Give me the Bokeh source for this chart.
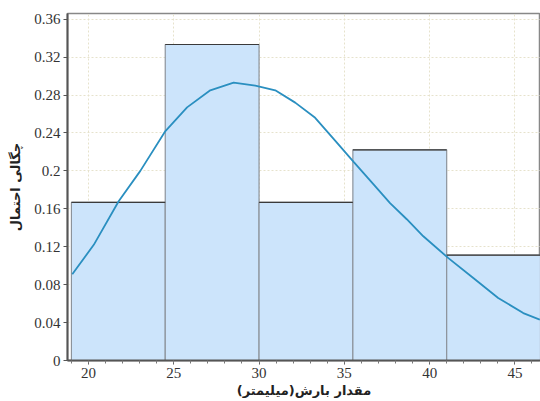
from bokeh.plotting import figure
from bokeh.embed import file_html
from bokeh.resources import INLINE
from bokeh.models import Range1d, FixedTicker

# histogram bins (rainfall, mm) and relative frequency
bin_left = [19.0, 24.5, 30.0, 35.5, 41.0]
bin_right = [24.5, 30.0, 35.5, 41.0, 46.5]
bin_height = [0.1667, 0.3333, 0.1667, 0.2222, 0.1111]

# fitted density curve
curve_x = [19.05, 20.31, 21.77, 23.04, 24.51, 25.78, 27.14, 28.51, 29.78, 30.95,
           32.12, 33.29, 34.46, 35.57, 36.7, 37.68, 38.66, 39.63, 41.1, 42.56,
           44.02, 45.49, 46.46]
curve_y = [0.091, 0.122, 0.168, 0.200, 0.242, 0.267, 0.285, 0.293, 0.290, 0.285,
           0.272, 0.256, 0.232, 0.209, 0.186, 0.166, 0.149, 0.131, 0.108, 0.087,
           0.066, 0.050, 0.043]

xticks = [20, 25, 30, 35, 40, 45]
yticks = [0, 0.04, 0.08, 0.12, 0.16, 0.2, 0.24, 0.28, 0.32, 0.36]
ytick_labels = ["0", "0.04", "0.08", "0.12", "0.16", "0.2", "0.24", "0.28", "0.32", "0.36"]

p = figure(width=540, height=401, output_backend="svg", toolbar_location=None,
           x_range=Range1d(18.77, 46.5), y_range=Range1d(0, 0.366),
           min_border_left=67, min_border_right=0, min_border_top=13, min_border_bottom=41)

p.quad(left=bin_left, right=bin_right, bottom=0, top=bin_height,
       fill_color="#cce4fb", line_color="#8c939b", line_width=1.2)
p.segment(x0=bin_left, x1=bin_right, y0=bin_height, y1=bin_height,
          line_color="#3a3a3a", line_width=1.2)
p.line(curve_x, curve_y, line_color="#2a8fc0", line_width=1.8)

p.xaxis.ticker = FixedTicker(ticks=xticks, minor_ticks=list(range(19, 47)))
p.yaxis.ticker = FixedTicker(ticks=yticks)
p.yaxis.major_label_overrides = {t: l for t, l in zip(yticks, ytick_labels)}

for ax in (p.xaxis[0], p.yaxis[0]):
    ax.axis_line_color = "#555555"
    ax.axis_line_width = 2
    ax.major_tick_line_color = "#555555"
    ax.minor_tick_line_color = "#777777"
    ax.major_tick_out = 4
    ax.major_tick_in = 0
    ax.minor_tick_out = 3
    ax.minor_tick_in = 0
    ax.major_label_standoff = 3
    ax.major_label_text_font = "Liberation Serif"
    ax.major_label_text_font_size = "15px"
    ax.major_label_text_color = "#333333"
    ax.axis_label_text_font = "DejaVu Sans"
    ax.axis_label_text_font_style = "bold"
    ax.axis_label_text_font_size = "13px"
    ax.axis_label_text_color = "#222222"
p.yaxis.minor_tick_line_color = None

p.xaxis.axis_label = "مقدار بارش(میلیمتر)"
p.yaxis.axis_label = "چگالی احتمال"
p.xaxis.axis_label_standoff = 2
p.yaxis.axis_label_standoff = 8

p.grid.grid_line_color = "#e6e2cc"
p.grid.grid_line_dash = "2 2"
p.outline_line_color = "#888888"
p.outline_line_width = 1.5

open("out.html", "w").write(file_html(p, INLINE))
